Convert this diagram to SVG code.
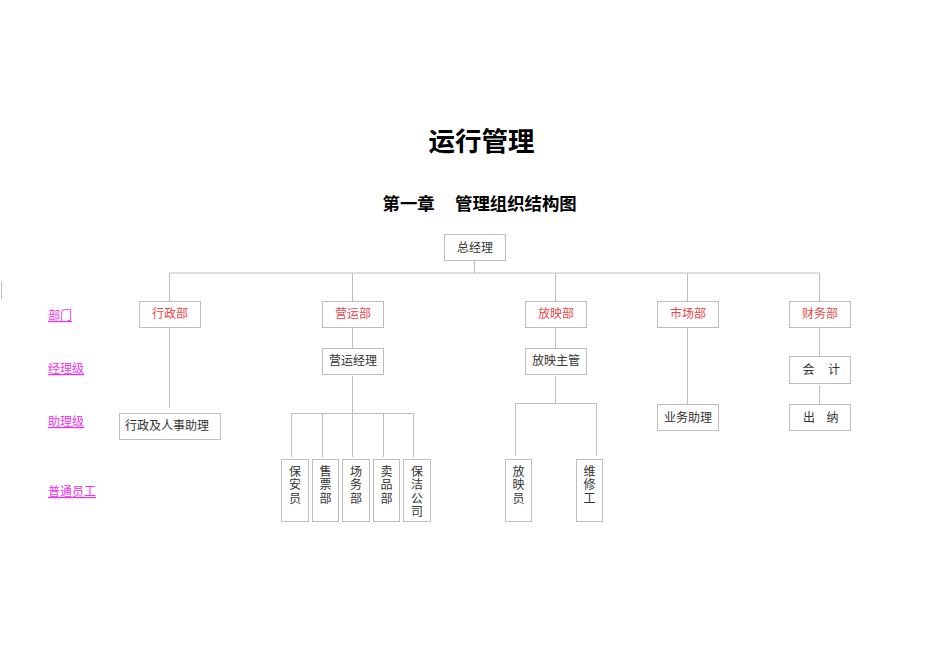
<svg xmlns="http://www.w3.org/2000/svg" width="950" height="672" viewBox="0 0 950 672">
<style>
  .box{fill:#fff;stroke:#bcbcbc;stroke-width:1}
  .ln{stroke:#bcbcbc;stroke-width:1;fill:none}
  .t{font-family:"Liberation Serif","Noto Sans CJK SC",serif;font-size:12px;fill:#333}
  .red{fill:#e8474b}
  .c{text-anchor:middle}
  .lvl{font-family:"Liberation Sans","Noto Sans CJK SC",sans-serif;font-size:12px;fill:#ee33ee;text-decoration:underline}
  .title{font-family:"Liberation Sans","Noto Sans CJK SC",sans-serif;font-weight:bold;fill:#000}
</style>
<rect width="950" height="672" fill="#fff"/>

<text class="title c" x="481.5" y="151" font-size="26.5">运行管理</text>
<text class="title" x="382.5" y="209.5" font-size="17.4">第一章</text>
<text class="title" x="455" y="209.5" font-size="17.4">管理组织结构图</text>

<line x1="1.5" y1="282" x2="1.5" y2="299" class="ln"/>

<g id="levels">
  <text class="lvl" x="48" y="320">部门</text>
  <text class="lvl" x="48" y="373">经理级</text>
  <text class="lvl" x="48" y="426">助理级</text>
  <text class="lvl" x="48" y="496">普通员工</text>
</g>

<g id="connectors">
  <line class="ln" x1="474.5" y1="261" x2="474.5" y2="273"/>
  <line class="ln" x1="169.5" y1="273" x2="819.5" y2="273"/>
  <line class="ln" x1="169.5" y1="273" x2="169.5" y2="301"/>
  <line class="ln" x1="352.5" y1="273" x2="352.5" y2="301"/>
  <line class="ln" x1="555.5" y1="273" x2="555.5" y2="301"/>
  <line class="ln" x1="687.5" y1="273" x2="687.5" y2="301"/>
  <line class="ln" x1="819.5" y1="273" x2="819.5" y2="301"/>
  <line class="ln" x1="169.5" y1="327" x2="169.5" y2="408"/>
  <line class="ln" x1="352.5" y1="327" x2="352.5" y2="348"/>
  <line class="ln" x1="352.5" y1="376" x2="352.5" y2="413"/>
  <line class="ln" x1="291.5" y1="413.5" x2="413.5" y2="413.5"/>
  <line class="ln" x1="291.5" y1="413" x2="291.5" y2="457"/>
  <line class="ln" x1="322.5" y1="413" x2="322.5" y2="457"/>
  <line class="ln" x1="352.5" y1="413" x2="352.5" y2="457"/>
  <line class="ln" x1="383.5" y1="413" x2="383.5" y2="457"/>
  <line class="ln" x1="413.5" y1="413" x2="413.5" y2="457"/>
  <line class="ln" x1="555.5" y1="327" x2="555.5" y2="348"/>
  <line class="ln" x1="555.5" y1="376" x2="555.5" y2="403"/>
  <line class="ln" x1="515.5" y1="403.5" x2="596.5" y2="403.5"/>
  <line class="ln" x1="515.5" y1="403" x2="515.5" y2="456"/>
  <line class="ln" x1="596.5" y1="403" x2="596.5" y2="456"/>
  <line class="ln" x1="687.5" y1="327" x2="687.5" y2="404"/>
  <line class="ln" x1="819.5" y1="327" x2="819.5" y2="356"/>
  <line class="ln" x1="819.5" y1="385" x2="819.5" y2="404"/>
</g>

<g id="n-gm"><rect class="box" x="444.5" y="234.5" width="61" height="26"/><text class="t c" x="475" y="251.5">总经理</text></g>

<g id="n-xz"><rect class="box" x="139.5" y="301.5" width="61" height="26"/><text class="t c red" x="170" y="318">行政部</text></g>
<g id="n-yy"><rect class="box" x="322.5" y="301.5" width="61" height="26"/><text class="t c red" x="353" y="318">营运部</text></g>
<g id="n-fy"><rect class="box" x="525.5" y="301.5" width="61" height="26"/><text class="t c red" x="556" y="318">放映部</text></g>
<g id="n-sc"><rect class="box" x="657.5" y="301.5" width="61" height="26"/><text class="t c red" x="688" y="318">市场部</text></g>
<g id="n-cw"><rect class="box" x="789.5" y="301.5" width="61" height="26"/><text class="t c red" x="820" y="318">财务部</text></g>

<g id="n-yyjl"><rect class="box" x="322.5" y="348.5" width="61" height="26"/><text class="t c" x="353" y="365">营运经理</text></g>
<g id="n-fyzg"><rect class="box" x="525.5" y="348.5" width="61" height="26"/><text class="t c" x="556" y="365">放映主管</text></g>
<g id="n-kj"><rect class="box" x="789.5" y="356.5" width="61" height="27"/><text class="t" x="802.5" y="374">会</text><text class="t" x="828" y="374">计</text></g>

<g id="n-xzzl"><rect class="box" x="119.5" y="413.5" width="101" height="26"/><text class="t" x="125" y="430">行政及人事助理</text></g>
<g id="n-ywzl"><rect class="box" x="657.5" y="404.5" width="61" height="26"/><text class="t c" x="688" y="421.5">业务助理</text></g>
<g id="n-cn"><rect class="box" x="789.5" y="404.5" width="61" height="26"/><text class="t" x="803" y="421.5">出</text><text class="t" x="826.5" y="421.5">纳</text></g>

<g id="n-bay"><rect class="box" x="281.5" y="459.5" width="27" height="62"/><text class="t c" x="295"><tspan x="295" y="475.5">保</tspan><tspan x="295" y="489">安</tspan><tspan x="295" y="502.5">员</tspan></text></g>
<g id="n-spb"><rect class="box" x="312.5" y="459.5" width="26" height="62"/><text class="t c" x="325.5"><tspan x="325.5" y="475.5">售</tspan><tspan x="325.5" y="489">票</tspan><tspan x="325.5" y="502.5">部</tspan></text></g>
<g id="n-swb"><rect class="box" x="342.5" y="459.5" width="27" height="62"/><text class="t c" x="356"><tspan x="356" y="475.5">场</tspan><tspan x="356" y="489">务</tspan><tspan x="356" y="502.5">部</tspan></text></g>
<g id="n-mpb"><rect class="box" x="373.5" y="459.5" width="26" height="62"/><text class="t c" x="386.5"><tspan x="386.5" y="475.5">卖</tspan><tspan x="386.5" y="489">品</tspan><tspan x="386.5" y="502.5">部</tspan></text></g>
<g id="n-bjgs"><rect class="box" x="403.5" y="459.5" width="27" height="62"/><text class="t c" x="417"><tspan x="417" y="475.5">保</tspan><tspan x="417" y="489">洁</tspan><tspan x="417" y="502.5">公</tspan><tspan x="417" y="516">司</tspan></text></g>
<g id="n-fyy"><rect class="box" x="505.5" y="459.5" width="26" height="62"/><text class="t c" x="518.5"><tspan x="518.5" y="475.5">放</tspan><tspan x="518.5" y="489">映</tspan><tspan x="518.5" y="502.5">员</tspan></text></g>
<g id="n-wxg"><rect class="box" x="576.5" y="459.5" width="26" height="62"/><text class="t c" x="589.5"><tspan x="589.5" y="475.5">维</tspan><tspan x="589.5" y="489">修</tspan><tspan x="589.5" y="502.5">工</tspan></text></g>
</svg>
